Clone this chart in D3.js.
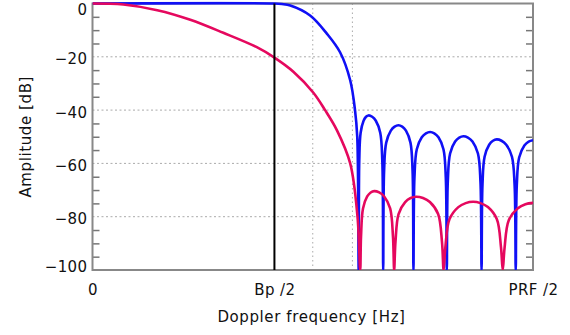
<!DOCTYPE html>
<html>
<head>
<meta charset="utf-8">
<script src="https://cdn.jsdelivr.net/npm/d3@7"></script>
<style>
  body { margin: 0; background: #fff; }
  text { font-family: "DejaVu Sans", sans-serif; fill: #111; }
</style>
</head>
<body>
<div id="chart"></div>
<script>
// frequency as fraction of PRF/2, amplitude in dB
const blueCurve = [
  [0, 0], [0.413, 0], [0.43, -0.2], [0.449, -0.75], [0.494, -4.5], [0.532, -11.3],
  [0.562, -18.3], [0.585, -28.8], [0.596, -40.1], [0.601, -50], [0.6043, -100],
  [0.6056, -59], [0.6087, -48.5], [0.6154, -44], [0.6210, -42.5], [0.6265, -42],
  [0.6349, -42.5], [0.6432, -44], [0.6532, -48.5], [0.6579, -59], [0.6599, -100],
  [0.6620, -62.7], [0.6668, -52.2], [0.6773, -47.7], [0.6859, -46.2], [0.6946, -45.7],
  [0.7031, -46.2], [0.7116, -47.7], [0.7218, -52.2], [0.7266, -62.7], [0.7286, -100],
  [0.7309, -65.2], [0.7362, -54.7], [0.7475, -50.2], [0.7570, -48.7], [0.7664, -48.2],
  [0.7759, -48.7], [0.7854, -50.2], [0.7967, -54.7], [0.8020, -65.2], [0.8043, -100],
  [0.8066, -66.8], [0.8118, -56.3], [0.8232, -51.8], [0.8326, -50.3], [0.8420, -49.8],
  [0.8523, -50.3], [0.8626, -51.8], [0.8750, -56.3], [0.8807, -66.8], [0.8832, -100],
  [0.8853, -68], [0.8901, -57.5], [0.9005, -53], [0.9091, -51.5], [0.9177, -51],
  [0.9285, -51.5], [0.9393, -53], [0.9522, -57.5], [0.9582, -68], [0.9608, -100],
  [0.9632, -68.3], [0.9686, -57.8], [0.9804, -53.3], [0.9902, -51.8], [1.0, -51.3]
];

const redCurve = [
  [0, 0], [0.07, -0.4], [0.147, -2.5], [0.222, -6.1], [0.297, -11], [0.373, -16.4],
  [0.413, -20.3], [0.456, -25.6], [0.501, -33.4], [0.528, -40], [0.555, -47.6],
  [0.585, -60], [0.6016, -80], [0.6077, -100],
  [0.6096, -87.4], [0.6141, -76.9], [0.6236, -72.4], [0.6316, -70.9], [0.6395, -70.4],
  [0.6508, -70.9], [0.6622, -72.4], [0.6757, -76.9], [0.6821, -87.4], [0.6848, -100],
  [0.6878, -89.5], [0.6948, -79], [0.7098, -74.5], [0.7222, -73], [0.7347, -72.5],
  [0.7503, -73], [0.7659, -74.5], [0.7846, -79], [0.7934, -89.5], [0.7971, -100],
  [0.8011, -91.4], [0.8105, -80.9], [0.8305, -76.4], [0.8472, -74.9], [0.8639, -74.4],
  [0.8808, -74.9], [0.8976, -76.4], [0.9178, -80.9], [0.9273, -91.4], [0.9313, -100],
  [0.9354, -91.8], [0.9450, -81.3], [0.9657, -76.8], [0.9828, -75.3], [1.0, -74.8]
];

const yLabelTicks = [0, -20, -40, -60, -80, -100];
const yMinorTicks = [-5, -10, -15, -25, -30, -35, -45, -50, -55, -65, -70, -75, -85, -90, -95];
const xTickValues = [0, 0.413, 1];
const xTickLabels = ["0", "Bp /2", "PRF /2"];
const bandEdge = 0.413;
const gridX = [0.5, 0.59];
const gridY = [-20, -40, -60, -80];

const W = 570, H = 335;
const plot = {left: 92.5, right: 533, top: 3.5, bottom: 270};
const fontSize = 15;

const svg = d3.select("#chart").append("svg")
    .attr("width", W)
    .attr("height", H);

const x = d3.scaleLinear().domain([0, 1]).range([plot.left, plot.right]);
const y = d3.scaleLinear().domain([-100, 0]).range([plot.bottom, plot.top]);

svg.append("defs").append("clipPath").attr("id", "plotClip")
  .append("rect")
    .attr("x", plot.left).attr("y", plot.top - 2)
    .attr("width", plot.right - plot.left).attr("height", plot.bottom - plot.top + 2);

// grid
svg.append("g").selectAll("line")
  .data(gridY)
  .enter().append("line")
    .attr("x1", plot.left).attr("x2", plot.right)
    .attr("y1", d => y(d)).attr("y2", d => y(d))
    .attr("stroke", "#aaa").attr("stroke-width", 1)
    .attr("stroke-dasharray", "2,2.5");

svg.append("g").selectAll("line")
  .data(gridX)
  .enter().append("line")
    .attr("x1", d => x(d)).attr("x2", d => x(d))
    .attr("y1", plot.top).attr("y2", plot.bottom)
    .attr("stroke", "#aaa").attr("stroke-width", 1)
    .attr("stroke-dasharray", "1.5,3");

// minor ticks, pointing inwards on both sides
svg.append("g")
    .attr("transform", `translate(${plot.left},0)`)
    .call(d3.axisRight(y).tickValues(yMinorTicks).tickSize(7).tickFormat(""))
    .call(g => g.select(".domain").remove())
    .call(g => g.selectAll("line").attr("stroke", "#777").attr("stroke-width", 1.5));

svg.append("g")
    .attr("transform", `translate(${plot.right},0)`)
    .call(d3.axisLeft(y).tickValues(yMinorTicks).tickSize(7).tickFormat(""))
    .call(g => g.select(".domain").remove())
    .call(g => g.selectAll("line").attr("stroke", "#777").attr("stroke-width", 1.5));

// y labels
svg.append("g")
    .attr("transform", `translate(${plot.left},0)`)
    .call(d3.axisLeft(y).tickValues(yLabelTicks).tickSize(0).tickPadding(5))
    .call(g => g.select(".domain").remove())
    .call(g => g.selectAll("text")
        .attr("font-size", fontSize)
        .attr("font-family", "DejaVu Sans")
        .attr("letter-spacing", 0.4)
        .attr("fill", "#111")
        .attr("dy", d => d === 0 ? "0.75em" : d === -100 ? "0.08em" : "0.47em"));

// x labels
svg.append("g")
    .attr("transform", `translate(0,${plot.bottom})`)
    .call(d3.axisBottom(x).tickValues(xTickValues).tickSize(0).tickPadding(14)
        .tickFormat((d, i) => xTickLabels[i]))
    .call(g => g.select(".domain").remove())
    .call(g => g.selectAll("text")
        .attr("font-size", fontSize)
        .attr("font-family", "DejaVu Sans")
        .attr("letter-spacing", 0.4)
        .attr("fill", "#111"));

// frame
svg.append("rect")
    .attr("x", plot.left).attr("y", plot.top)
    .attr("width", plot.right - plot.left).attr("height", plot.bottom - plot.top)
    .attr("fill", "none")
    .attr("stroke", "#888").attr("stroke-width", 2);

const line = d3.line()
    .x(d => x(d[0]))
    .y(d => y(d[1]))
    .curve(d3.curveCatmullRom.alpha(0.5));

const curves = svg.append("g").attr("clip-path", "url(#plotClip)");

curves.append("path")
    .datum(blueCurve)
    .attr("d", line)
    .attr("fill", "none")
    .attr("stroke", "#1010f5")
    .attr("stroke-width", 2.6)
    .attr("stroke-linejoin", "round");

curves.append("path")
    .datum(redCurve)
    .attr("d", line)
    .attr("fill", "none")
    .attr("stroke", "#e5085e")
    .attr("stroke-width", 2.6)
    .attr("stroke-linejoin", "round");

svg.append("line")
    .attr("x1", x(bandEdge)).attr("x2", x(bandEdge))
    .attr("y1", plot.top).attr("y2", plot.bottom)
    .attr("stroke", "#000").attr("stroke-width", 2);

// titles
svg.append("text")
    .attr("x", 311.5)
    .attr("y", 322)
    .attr("text-anchor", "middle")
    .attr("font-size", fontSize)
    .attr("letter-spacing", 0.6)
    .text("Doppler frequency [Hz]");

svg.append("text")
    .attr("transform", `translate(31,${(plot.top + plot.bottom) / 2}) rotate(-90)`)
    .attr("text-anchor", "middle")
    .attr("font-size", fontSize)
    .attr("letter-spacing", 0.6)
    .text("Amplitude [dB]");
</script>
</body>
</html>
